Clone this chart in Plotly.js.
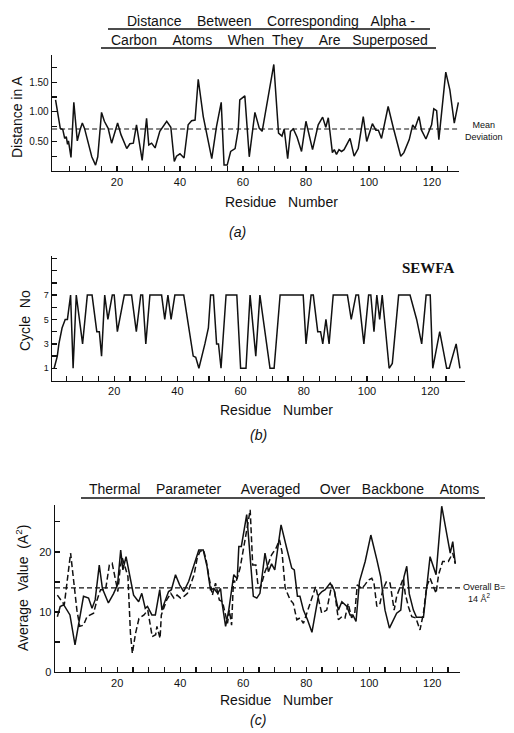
<!DOCTYPE html>
<html><head><meta charset="utf-8">
<script src="https://cdn.plot.ly/plotly-3.0.1.min.js"></script>
<style>html,body{margin:0;padding:0;background:#fff}#chart{width:514px;height:733px}</style>
</head><body><div id="chart"></div>
<script>
// ---------- Panel (a): distance between corresponding alpha-carbon atoms ----------
const distResidue = [0.5,2,2.8,3.4,3.9,4.3,4.6,5.4,6.3,7.4,8.3,9.0,9.7,10.9,12.0,13.2,13.9,15.1,16.0,17.2,
  18.3,20.2,21.3,23.1,24.1,25.2,26.2,28.0,29.4,30.1,31.0,32.1,33.6,35.8,37.1,38.2,38.9,40.0,41.3,42.6,
  43.7,44.8,45.8,47.4,50.1,51.6,53.1,54.0,55.0,56.1,57.5,58.5,59.0,60.6,62.0,63.8,65.2,66.1,69.8,71.3,
  72.4,73.1,74.2,75.1,76.0,77.2,78.6,80.0,82.1,83.9,85.3,86.3,87.1,88.4,89.0,89.7,90.5,91.3,92.1,94.0,
  95.3,96.6,98.2,99.3,101.1,102.2,103.0,104.0,106.1,107.7,110.1,111.1,112.8,113.9,114.6,115.9,116.7,118.1,119.9,120.6,
  121.5,122.2,124.4,125.7,127.1,128.4];
const distValue = [1.20,0.72,0.70,0.55,0.58,0.45,0.51,0.23,1.16,0.51,0.70,0.81,0.72,0.47,0.24,0.10,0.24,0.99,0.84,0.72,
  0.47,0.81,0.61,0.38,0.46,0.47,0.78,0.18,0.89,0.44,0.47,0.39,0.67,0.84,0.74,0.16,0.25,0.29,0.22,0.78,
  0.85,0.86,1.55,0.92,0.21,0.75,1.16,0.10,0.10,0.33,0.38,0.70,1.20,1.27,0.24,0.99,0.72,0.67,1.80,0.64,
  0.59,0.71,0.21,0.67,0.71,0.57,0.33,0.84,0.36,0.78,0.91,0.74,0.90,0.31,0.36,0.28,0.36,0.33,0.36,0.55,
  0.25,0.38,0.92,0.50,0.80,0.69,0.69,0.55,1.09,0.74,0.25,0.31,0.53,0.78,0.72,0.92,0.69,0.54,0.78,1.05,
  1.02,0.53,1.67,1.37,0.81,1.16];
const meanDeviation = 0.71;

// ---------- Panel (b): SEWFA cycle number ----------
const cycleResidue = [1,2,2.5,3.5,4.5,5.2,6.2,7,8,10,11.5,13,14.5,15.3,16,17,18,19.4,20,21,
  23.2,25.5,27,28.4,29,30,31.3,35,36,37,38,39.2,42,43.5,45,45.8,46.8,48.7,49.8,50.5,
  51.4,52.4,53,53.8,55.4,58.8,60,61.7,63,64.8,66.1,69.3,70.6,72.5,79.8,80.7,82.3,83,84.4,85.3,
  86,87,88,89.3,93.8,95,96.5,97.3,99,100.5,101.2,102.2,103.1,104,104.8,107,108,110,113.6,115.7,
  117.3,118.7,120,120.8,123,125.2,126,128.2,129.4];
const cycleNo = [1,2,3,4.3,5,5,7,1,7,3,7,7,4,4,2,7,5,7,7,4,
  7,7,4,7,7,3,7,7,5,7,5,7,7,4.5,2,1.9,1,3,4.3,7,
  7,3,3,1,7,7,1,1,7,2,7,1,1,7,7,3,7,7,4,4,
  3,5,3,7,7,5,7,7,3,7,7,4,7,5,7,1,1.4,7,7,5,
  3,7,7,1,4,1,1,3,1];

// ---------- Panel (c): thermal parameter averaged over backbone atoms ----------
const thermalSolidResidue = [1,1.9,3,5,6.6,8.2,9.3,10.9,12,13,14.3,15.3,16.2,17.2,18.8,20.1,21.1,21.8,22.8,23.9,
  25.2,26.8,27.8,28.9,29.6,31,32.1,33.5,34.2,34.9,36.3,37.2,38.5,39.8,41.1,42.7,44.3,45.9,47.3,48.5,
  49.6,50.7,51.9,52.8,53.3,54.4,55.4,56,57,58.1,58.6,59.4,61.1,63.2,64.3,65.3,66.9,68,69,70,
  72,73.8,75.4,76.2,77.2,78,79.1,80.4,81.8,83.9,85,86,87.6,88.8,90.2,91.3,92.9,93.9,94.8,95.8,
  96.9,98.7,100.5,102.4,103.6,105,106.4,108.7,110,111,111.9,112.7,114,115,117.2,119.3,121.2,123,124.6,125.7,
  126.5,127.3];
const thermalSolid = [9.2,10.9,11.2,9.5,4.5,9.5,12.6,12.3,10.6,12,17.8,13.9,12.6,11.5,13,14.5,20.3,17,19.2,16.2,
  12.8,11.7,13.1,10.6,10.9,9.5,9.5,13.7,10.3,11.4,13.4,13.7,16.2,14.5,13.4,15.1,17.6,20.3,20.3,17.6,
  13.7,13.9,13.1,13.9,11.4,7.6,10.3,12.3,16.2,15.5,20.9,20.9,26.2,12.6,12.3,13.1,19.8,16.7,18,17,
  24.5,20.6,17.3,17,12.6,12.6,10.3,8.7,6.6,12.8,13.4,13.7,14.8,13.7,10.3,11.7,10.9,9.5,9.5,8.4,
  15.1,18.4,22.8,18.7,15.9,10.3,7.3,9.8,10.3,15.8,17.6,13,10.3,9.1,9.1,19.2,16.2,27.6,22.6,19.8,
  21.7,18.1];
const thermalDashedResidue = [1,2,3.2,5.2,5.9,7.2,8.1,9.3,10.4,12.5,13.6,14.7,16.3,17.5,18.4,19.4,20.2,21,21.6,23.4,
  24.2,24.8,25.8,26.9,28.5,29.7,31.1,32.2,32.6,33.6,34,35.7,37,38,39,40.1,41.2,42.3,43.4,44.4,
  45.4,46.3,47.4,48.2,49.2,50.2,51.2,52.4,53.4,54.3,55,55.6,56.3,56.9,57.6,59,60.5,61.4,62.2,63,
  64,64.6,65.4,66.9,68,69,70.4,71.5,72.3,73.3,74.9,75.9,77,78,79.1,80.7,83,84.9,86.5,88.1,
  89,90.2,91.3,92.3,93.3,94.4,95.4,96.2,97.6,98.6,99.7,100.8,101.5,102.4,103.4,104.3,105.5,106.6,107.9,108.7,
  110,110.8,111.4,112.4,113.5,114.8,116.1,117.2,118.2,119.3,121.2,122,123.3,125.1,126.5,127.3];
const thermalDashed = [12.8,12,11.2,19.8,16.5,10.3,7.6,7.8,9.2,9.8,12,13.7,13.7,17.8,18.1,15.3,13.4,17.6,19,15.9,
  6.4,3.1,6.4,8.9,9.5,10.3,5.9,6.2,7.6,5.6,9.5,12,13.1,12.3,12.8,12.3,12.6,13.1,14.8,16.2,
  19,20.1,20.3,18.7,15.6,12.8,14.8,12,11.7,9.8,8.1,10.3,7.8,15.3,14.8,17.3,21.4,24.5,27,17.8,
  17.8,14.8,13.9,16.7,18.1,19.5,20.6,22,20,14,12,11.4,8.7,9,8.1,10.6,14.2,9.8,10.3,14.5,
  13.4,8.7,9.2,9,11.4,9,9.8,14.5,13.9,14.5,15.3,15.6,14.8,10.9,11.4,13.7,15.1,14.8,10.3,12.6,
  14.5,15.6,13.1,10.9,9.2,9,7,9.8,14.2,15.6,13.1,16.2,18.4,18.4,19.8,18];
const overallB = 14;

// ---------- Ticks and tick labels ----------
const xMinorTicks = [5,10,15,25,30,35,45,50,55,65,70,75,85,90,95,105,110,115,125];
const xLabelVals = [20,40,60,80,100,120];
const xLabelText = ['20','40','60','80','100','120'];
const aMinorTicks = [0.25,0.75,1.25,1.75];
const aLabelVals = [0.5,1.0,1.5];
const aLabelText = ['0.50','1.00','1.50'];
const bMinorTicks = [2,4,6,8,9,10];
const bLabelVals = [1,3,5,7];
const bLabelText = ['1','3','5','7'];
const cMinorTicks = [5,15,25];
const cLabelVals = [0,10,20];
const cLabelText = ['0','10','20'];

// ---------- Layout helpers ----------
const W = 514, H = 733;
const FONT = 'Liberation Sans, Arial, sans-serif';
const S = '\u00a0';
const sp = n => S.repeat(n);
function px(x){return x / W;}
function py(y){return 1 - y / H;}
function ann(text, x, y, o){
  return Object.assign({text: text, x: px(x), y: py(y), xref: 'paper', yref: 'paper',
    showarrow: false, xanchor: 'center', yanchor: 'middle',
    font: {family: FONT, size: 14, color: '#111'}}, o || {});
}
function uline(x0, x1, y){
  return {type: 'line', xref: 'paper', yref: 'paper', x0: px(x0), x1: px(x1), y0: py(y), y1: py(y),
    line: {color: '#111', width: 1.4}};
}
function minorOf(vals){
  return {tickmode: 'array', tickvals: vals, ticks: 'inside', ticklen: 5, tickwidth: 1.3, tickcolor: '#111', showgrid: false};
}
function xa(dom, range){
  return {domain: [px(dom[0]), px(dom[1])], range: range, showline: true, linecolor: '#111', linewidth: 1.4,
    ticks: 'inside', ticklen: 5, tickwidth: 1.3, tickcolor: '#111', showgrid: false, zeroline: false,
    tickmode: 'array', tickvals: xLabelVals, ticktext: xLabelText, minor: minorOf(xMinorTicks),
    tickfont: {family: FONT, size: 11, color: '#111'}, fixedrange: true};
}
function ya(dom, range, vals, text, minor, fs){
  return {domain: [py(dom[1]), py(dom[0])], range: range, showline: true, linecolor: '#111', linewidth: 1.4,
    ticks: 'inside', ticklen: 5, tickwidth: 1.3, tickcolor: '#111', showgrid: false, zeroline: false,
    tickmode: 'array', tickvals: vals, ticktext: text, minor: minorOf(minor),
    tickfont: {family: FONT, size: fs, color: '#111'}, fixedrange: true};
}

const lineStyle = {color: '#111', width: 1.5};
const traces = [
  {x: distResidue, y: distValue, type: 'scatter', mode: 'lines', line: lineStyle, xaxis: 'x', yaxis: 'y', name: 'distance'},
  {x: [-0.6, 128.4], y: [meanDeviation, meanDeviation], type: 'scatter', mode: 'lines',
   line: {color: '#111', width: 1.2, dash: '5px,3px'}, xaxis: 'x', yaxis: 'y', name: 'mean'},
  {x: cycleResidue, y: cycleNo, type: 'scatter', mode: 'lines', line: lineStyle, xaxis: 'x2', yaxis: 'y2', name: 'cycle'},
  {x: thermalSolidResidue, y: thermalSolid, type: 'scatter', mode: 'lines', line: lineStyle, xaxis: 'x3', yaxis: 'y3', name: 'solid'},
  {x: thermalDashedResidue, y: thermalDashed, type: 'scatter', mode: 'lines',
   line: {color: '#111', width: 1.5, dash: '6px,3px'}, xaxis: 'x3', yaxis: 'y3', name: 'dashed'},
  {x: [0.25, 128.8], y: [overallB, overallB], type: 'scatter', mode: 'lines',
   line: {color: '#111', width: 1.2, dash: '5px,3px'}, xaxis: 'x3', yaxis: 'y3', name: 'overall'}
];

const layout = {
  width: W, height: H, margin: {l: 0, r: 0, t: 0, b: 0}, showlegend: false,
  paper_bgcolor: '#fff', plot_bgcolor: '#fff',
  xaxis: xa([52, 459], [-0.63, 128.6]),
  yaxis: ya([55, 171], [0, 1.96], aLabelVals, aLabelText, aMinorTicks, 10),
  xaxis2: Object.assign(xa([52, 465], [0.32, 131]), {anchor: 'y2'}),
  yaxis2: Object.assign(ya([256, 380.5], [0, 10.2], bLabelVals, bLabelText, bMinorTicks, 9), {anchor: 'x2'}),
  xaxis3: Object.assign(xa([55, 460], [0.25, 128.8]), {anchor: 'y3'}),
  yaxis3: Object.assign(ya([505, 672], [0, 27.8], cLabelVals, cLabelText, cMinorTicks, 11), {anchor: 'x3'}),
  annotations: [
    ann('Distance' + sp(4) + 'Between' + sp(4) + 'Corresponding' + sp(3) + 'Alpha' + sp(1) + '-', 271, 21),
    ann('Carbon' + sp(4) + 'Atoms' + sp(4) + 'When' + sp(2) + 'They' + sp(4) + 'Are' + sp(3) + 'Superposed', 269, 40),
    ann('Distance in A', 17, 117, {textangle: -90}),
    ann('Residue' + sp(3) + 'Number', 281, 202),
    ann('<i>(a)</i>', 237, 232),
    ann('Mean<br>Deviation', 463, 131, {xanchor: 'left', font: {family: FONT, size: 9, color: '#111'}}),
    ann('<b>SEWFA</b>', 428, 268, {font: {family: 'Liberation Serif, Times New Roman, serif', size: 15, color: '#111'}}),
    ann('Cycle' + sp(2) + 'No', 25, 321, {textangle: -90}),
    ann('Residue' + sp(3) + 'Number', 276, 410),
    ann('<i>(b)</i>', 258, 435),
    ann('Thermal' + sp(4) + 'Parameter' + sp(5) + 'Averaged' + sp(5) + 'Over' + sp(3) + 'Backbone' + sp(4) + 'Atoms', 284, 489),
    ann('Average' + sp(2) + 'Value' + sp(2) + '(A<sup>2</sup>)', 22, 588, {textangle: -90}),
    ann('Overall' + S + 'B=<br>' + sp(2) + '14 \u00c5<sup>2</sup>', 461, 593, {xanchor: 'left', align: 'left', font: {family: FONT, size: 9, color: '#111'}}),
    ann('Residue' + sp(3) + 'Number', 276, 700),
    ann('<i>(c)</i>', 258, 720)
  ],
  shapes: [uline(108, 430, 29), uline(101, 436, 48), uline(81, 485, 498)]
};

Plotly.newPlot('chart', traces, layout, {displayModeBar: false, staticPlot: true});
</script></body></html>
